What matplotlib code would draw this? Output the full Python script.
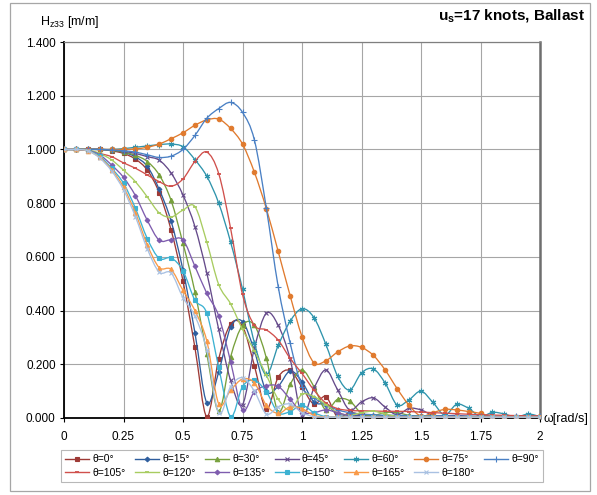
import numpy as np
import matplotlib
matplotlib.use("Agg")
import matplotlib.pyplot as plt
from matplotlib.path import Path
from matplotlib.patches import PathPatch, Rectangle
from matplotlib.lines import Line2D

plt.rcParams['font.family'] = ['Liberation Sans', 'DejaVu Sans']
plt.rcParams['mathtext.fontset'] = 'custom'
plt.rcParams['mathtext.rm'] = 'Liberation Sans'
plt.rcParams['mathtext.bf'] = 'Liberation Sans:bold'

# wave frequency [rad/s]
omega = [0.00, 0.05, 0.10, 0.15, 0.20, 0.25, 0.30, 0.35, 0.40, 0.45,
         0.50, 0.55, 0.60, 0.65, 0.70, 0.75, 0.80, 0.85, 0.90, 0.95,
         1.00, 1.05, 1.10, 1.15, 1.20, 1.25, 1.30, 1.35, 1.40, 1.45,
         1.50, 1.55, 1.60, 1.65, 1.70, 1.75, 1.80, 1.85, 1.90, 1.95, 2.00]

headings = ['θ=0°', 'θ=15°', 'θ=30°', 'θ=45°', 'θ=60°', 'θ=75°', 'θ=90°',
            'θ=105°', 'θ=120°', 'θ=135°', 'θ=150°', 'θ=165°', 'θ=180°']

# heave transfer function Hz33 per heading
h000 = [1.000, 1.000, 1.000, 1.000, 0.995, 0.985, 0.964, 0.923, 0.839, 0.700,
        0.510, 0.263, 0.005, 0.220, 0.350, 0.342, 0.195, 0.032, 0.152, 0.177,
        0.115, 0.052, 0.080, 0.003, 0.020, 0.012, 0.006, 0.008, 0.004, 0.005,
        0.003, 0.004, 0.002, 0.003, 0.002, 0.002, 0.002, 0.002, 0.002, 0.002, 0.002]
h015 = [1.000, 1.000, 1.000, 1.000, 0.997, 0.990, 0.972, 0.937, 0.851, 0.733,
        0.550, 0.318, 0.057, 0.172, 0.338, 0.359, 0.250, 0.100, 0.118, 0.175,
        0.135, 0.060, 0.050, 0.015, 0.012, 0.008, 0.006, 0.005, 0.004, 0.004,
        0.003, 0.003, 0.003, 0.003, 0.002, 0.002, 0.002, 0.002, 0.002, 0.002, 0.002]
h030 = [1.000, 1.000, 1.000, 1.000, 0.997, 0.990, 0.978, 0.955, 0.905, 0.810,
        0.650, 0.470, 0.240, 0.025, 0.227, 0.345, 0.345, 0.224, 0.024, 0.125,
        0.179, 0.117, 0.030, 0.070, 0.064, 0.017, 0.010, 0.020, 0.020, 0.010,
        0.006, 0.008, 0.006, 0.004, 0.004, 0.003, 0.003, 0.003, 0.003, 0.003, 0.003]
h045 = [1.000, 1.000, 1.000, 1.000, 0.998, 0.993, 0.985, 0.973, 0.960, 0.912,
        0.830, 0.713, 0.540, 0.330, 0.140, 0.050, 0.260, 0.390, 0.345, 0.220,
        0.010, 0.110, 0.179, 0.104, 0.030, 0.060, 0.075, 0.040, 0.012, 0.036,
        0.030, 0.010, 0.008, 0.010, 0.006, 0.004, 0.004, 0.003, 0.003, 0.003, 0.003]
h060 = [1.000, 1.000, 1.000, 1.000, 1.000, 1.003, 1.008, 1.013, 1.018, 1.020,
        1.010, 0.962, 0.900, 0.800, 0.655, 0.480, 0.280, 0.162, 0.270, 0.360,
        0.407, 0.374, 0.275, 0.155, 0.104, 0.168, 0.183, 0.129, 0.048, 0.068,
        0.100, 0.058, 0.011, 0.051, 0.036, 0.005, 0.021, 0.015, 0.003, 0.015, 0.005]
h075 = [1.000, 1.000, 1.000, 1.000, 1.000, 1.000, 1.002, 1.008, 1.020, 1.040,
        1.062, 1.090, 1.110, 1.113, 1.078, 1.020, 0.915, 0.780, 0.620, 0.456,
        0.303, 0.206, 0.213, 0.246, 0.268, 0.263, 0.233, 0.178, 0.109, 0.047,
        0.007, 0.020, 0.032, 0.030, 0.024, 0.017, 0.004, 0.004, 0.005, 0.004, 0.008]
h090 = [1.000, 1.000, 1.000, 1.000, 0.998, 0.995, 0.990, 0.980, 0.970, 0.975,
        1.000, 1.052, 1.116, 1.152, 1.175, 1.138, 1.035, 0.782, 0.489, 0.280,
        0.117, 0.075, 0.050, 0.030, 0.020, 0.015, 0.012, 0.010, 0.010, 0.009,
        0.008, 0.008, 0.008, 0.007, 0.007, 0.007, 0.007, 0.007, 0.007, 0.007, 0.007]
h105 = [1.000, 1.000, 0.995, 0.985, 0.973, 0.950, 0.930, 0.905, 0.880, 0.863,
        0.890, 0.955, 0.990, 0.910, 0.706, 0.460, 0.345, 0.328, 0.290, 0.222,
        0.166, 0.104, 0.056, 0.035, 0.028, 0.027, 0.026, 0.025, 0.025, 0.024,
        0.022, 0.020, 0.018, 0.016, 0.014, 0.012, 0.011, 0.010, 0.009, 0.008, 0.008]
h120 = [1.000, 1.000, 0.998, 0.985, 0.961, 0.923, 0.880, 0.823, 0.764, 0.748,
        0.774, 0.787, 0.655, 0.497, 0.425, 0.330, 0.250, 0.160, 0.070, 0.030,
        0.088, 0.080, 0.050, 0.020, 0.010, 0.020, 0.025, 0.015, 0.006, 0.005,
        0.006, 0.005, 0.004, 0.004, 0.004, 0.003, 0.003, 0.003, 0.003, 0.003, 0.003]
h135 = [1.000, 1.000, 0.997, 0.980, 0.942, 0.896, 0.828, 0.736, 0.662, 0.664,
        0.663, 0.565, 0.464, 0.380, 0.210, 0.030, 0.098, 0.120, 0.118, 0.070,
        0.020, 0.020, 0.030, 0.020, 0.008, 0.006, 0.005, 0.005, 0.004, 0.004,
        0.003, 0.003, 0.003, 0.003, 0.003, 0.003, 0.003, 0.003, 0.003, 0.003, 0.003]
h150 = [1.000, 1.000, 0.996, 0.975, 0.930, 0.874, 0.781, 0.668, 0.594, 0.596,
        0.548, 0.439, 0.390, 0.189, 0.005, 0.117, 0.140, 0.098, 0.020, 0.024,
        0.048, 0.020, 0.005, 0.004, 0.003, 0.003, 0.003, 0.003, 0.003, 0.003,
        0.003, 0.003, 0.003, 0.003, 0.003, 0.003, 0.003, 0.003, 0.003, 0.003, 0.003]
h165 = [1.000, 1.000, 0.995, 0.970, 0.925, 0.860, 0.764, 0.645, 0.560, 0.553,
        0.475, 0.400, 0.287, 0.053, 0.104, 0.145, 0.131, 0.048, 0.017, 0.042,
        0.035, 0.010, 0.004, 0.003, 0.003, 0.003, 0.003, 0.003, 0.003, 0.003,
        0.003, 0.003, 0.003, 0.003, 0.003, 0.003, 0.003, 0.003, 0.003, 0.003, 0.003]
h180 = [1.000, 1.000, 0.995, 0.968, 0.920, 0.850, 0.750, 0.630, 0.543, 0.540,
        0.448, 0.380, 0.253, 0.017, 0.117, 0.150, 0.100, 0.015, 0.042, 0.052,
        0.020, 0.005, 0.003, 0.003, 0.003, 0.003, 0.003, 0.003, 0.003, 0.003,
        0.003, 0.003, 0.003, 0.003, 0.003, 0.003, 0.003, 0.003, 0.003, 0.003, 0.003]

series = [h000, h015, h030, h045, h060, h075, h090,
          h105, h120, h135, h150, h165, h180]

colors = ['#9E3A36', '#2F5E9E', '#77A03C', '#654A8A', '#2F94AC', '#E07A2E', '#4A80C4',
          '#D0504C', '#A8CC60', '#7E5CAE', '#3DB2D2', '#F99A48', '#A9C1E2']
markers = ['s', 'D', '^', 'x', (6, 2, 0), 'o', '+',
           '_', '_', 'D', 's', '^', 'x']
msizes = [3.2, 2.4, 3.2, 3.2, 4.0, 3.2, 4.0,
          3.2, 3.2, 2.4, 3.2, 3.2, 3.2]

xticks = [0, 0.25, 0.5, 0.75, 1, 1.25, 1.5, 1.75, 2]
xticklabels = ['0', '0.25', '0.5', '0.75', '1', '1.25', '1.5', '1.75', '2']
yticks = [0, 0.2, 0.4, 0.6, 0.8, 1.0, 1.2, 1.4]


def smooth_path(x, y):
    # Catmull-Rom style bezier through every point, like a spreadsheet "smoothed line"
    pts = np.column_stack([x, y])
    p = np.vstack([pts[0], pts, pts[-1]])
    verts = [pts[0]]
    codes = [Path.MOVETO]
    for i in range(len(pts) - 1):
        p0, p1, p2, p3 = p[i], p[i + 1], p[i + 2], p[i + 3]
        verts += [p1 + (p2 - p0) / 6, p2 - (p3 - p1) / 6, p2]
        codes += [Path.CURVE4] * 3
    return Path(verts, codes)


fig = plt.figure(figsize=(5.97, 4.95), dpi=100)
ax = fig.add_axes([64 / 597, 1 - 418 / 495, 476 / 597, 376 / 495])

w = np.array(omega)
for k, (vals, c, m, ms) in enumerate(zip(series, colors, markers, msizes)):
    ax.add_patch(PathPatch(smooth_path(w, np.array(vals)), facecolor='none',
                           edgecolor=c, lw=0.95, zorder=3 + k))
    mew = 1.3 if m == '_' else 0.8
    ax.plot(w, vals, ls='none', marker=m, ms=ms, color=c, mec=c, mew=mew, zorder=3 + k)

ax.set_xlim(0, 2)
ax.set_ylim(0, 1.4)
ax.set_xticks(xticks)
ax.set_xticklabels(xticklabels)
ax.set_yticks(yticks)
ax.set_yticklabels(['%.3f' % v for v in yticks])
ax.grid(True, color='#A6A6A6', lw=0.8)
ax.set_axisbelow(True)
ax.tick_params(direction='out', length=3, width=0.8, labelsize=8.5, colors='black')
ax.tick_params(axis='x', pad=6)
ax.tick_params(axis='y', pad=3)
ax.spines['left'].set_color('black')
ax.spines['left'].set_linewidth(1.3)
ax.spines['bottom'].set_color('black')
ax.spines['bottom'].set_linewidth(1.3)
ax.spines['top'].set_color('#7F7F7F')
ax.spines['top'].set_linewidth(0.9)
ax.spines['right'].set_color('#6E6E6E')
ax.spines['right'].set_linewidth(1.8)

fig.text(40 / 597, 1 - 22 / 495, r'H$_{\mathrm{z33}}$ [m/m]', fontsize=9,
         ha='left', va='center')
fig.text(585 / 597, 1 - 16 / 495, r'u$_{\mathbf{s}}$=17 knots, Ballast',
         fontsize=11, fontweight='bold', ha='right', va='center')
fig.text(543 / 597, 1 - 419 / 495, 'ω[rad/s]', fontsize=9, ha='left', va='center')

# outer chart frame
fig.patches.append(Rectangle((10 / 597, 4 / 495), 580 / 597, 488 / 495,
                             transform=fig.transFigure, facecolor='none',
                             edgecolor='#A6A6A6', lw=0.9))

handles = [Line2D([0], [0], color=c, lw=1.0, marker=m, ms=ms, mec=c,
                  mew=1.3 if m == '_' else 0.8)
           for c, m, ms in zip(colors, markers, msizes)]
# row-major order for a 7-column legend
order = [0, 7, 1, 8, 2, 9, 3, 10, 4, 11, 5, 12, 6]
leg = fig.legend([handles[i] for i in order], [headings[i] for i in order],
                 ncol=7, loc='center', bbox_to_anchor=(302 / 597, 1 - 466 / 495),
                 fontsize=7.5, frameon=True, fancybox=False, edgecolor='#A6A6A6',
                 handlelength=2.3, handletextpad=0.3, columnspacing=0.9,
                 borderpad=0.4, labelspacing=0.35)
leg.get_frame().set_linewidth(0.8)

fig.savefig('out.png', dpi=100)
